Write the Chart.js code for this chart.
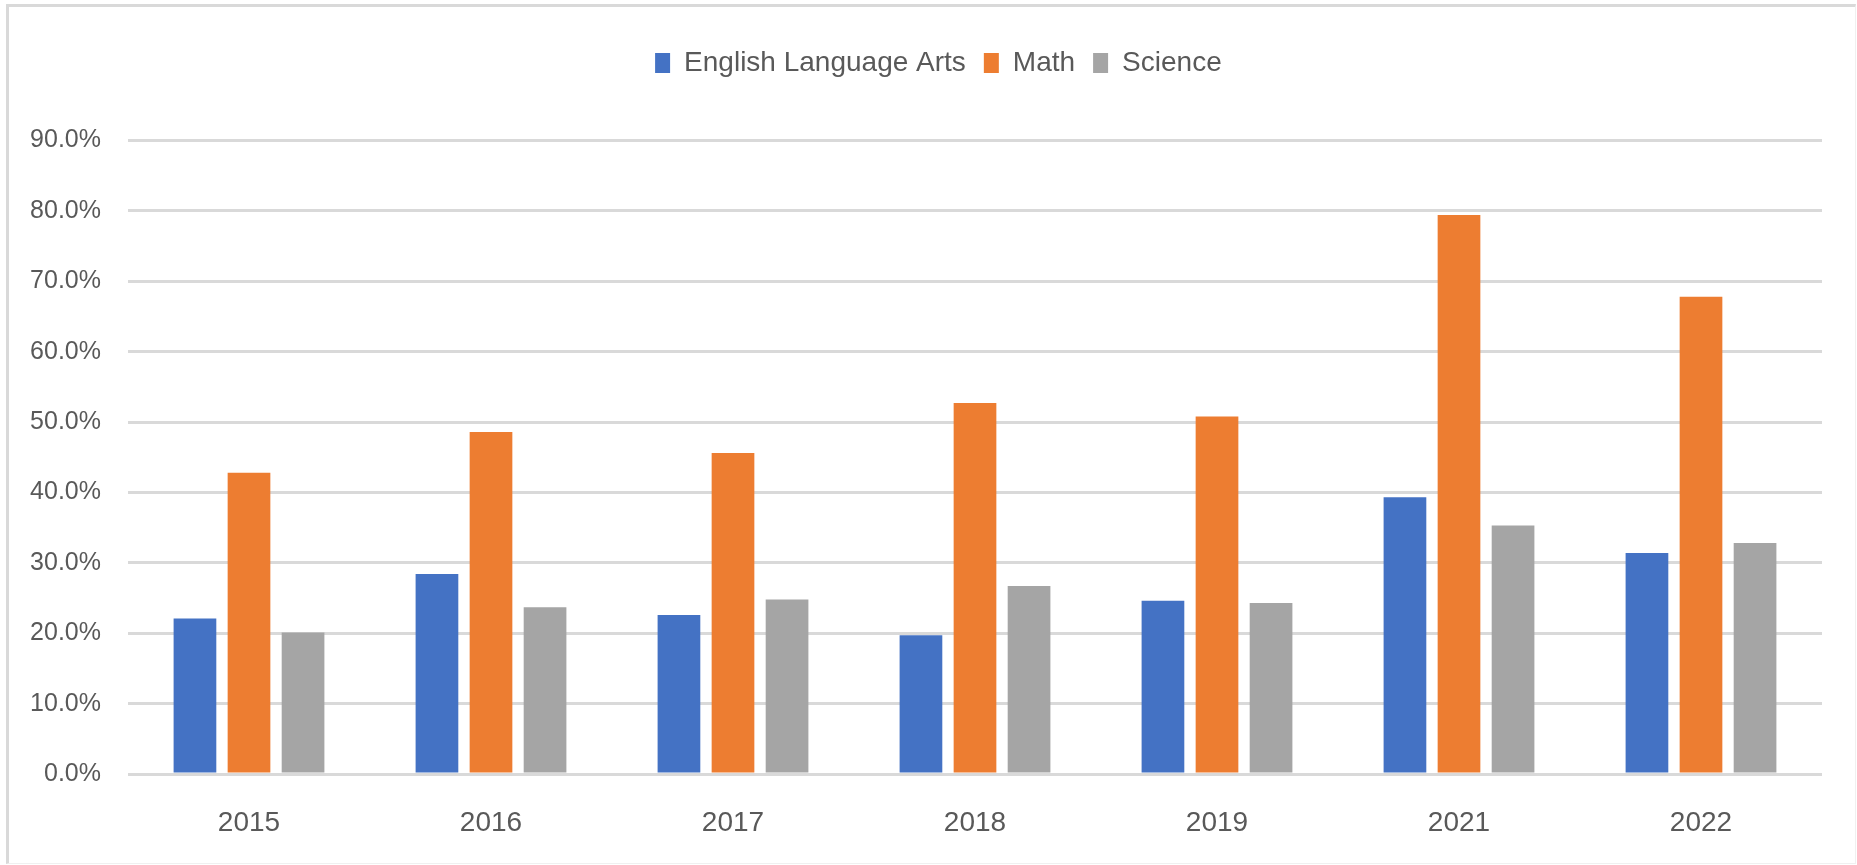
<!DOCTYPE html>
<html>
<head>
<meta charset="utf-8">
<script src="https://cdn.jsdelivr.net/npm/chart.js@4"></script>
<style>
  html, body { margin: 0; padding: 0; background: #fff; }
  #wrap { position: relative; width: 1857px; height: 865px; overflow: hidden; }
  #frame { position: absolute; left: 6px; top: 4px; right: 1px; bottom: 1px;
           border-left: 3px solid #d9d9d9; border-top: 3px solid #d9d9d9;
           border-right: 1px solid #f0f0f0; border-bottom: 1px solid #f0f0f0;
           pointer-events: none; box-sizing: border-box; }
  canvas { position: absolute; left: 0; top: 0; }
</style>
</head>
<body>
<div id="wrap">
  <canvas id="c" width="1857" height="865"></canvas>
  <div id="frame"></div>
</div>
<script>
const years = ['2015', '2016', '2017', '2018', '2019', '2021', '2022'];
const seriesNames = ['English Language Arts', 'Math', 'Science'];
const elaValues = [22.1, 28.4, 22.6, 19.7, 24.6, 39.3, 31.4];
const mathValues = [42.8, 48.6, 45.6, 52.7, 50.8, 79.4, 67.8];
const scienceValues = [20.1, 23.7, 24.8, 26.7, 24.3, 35.3, 32.8];
const yMin = 0;
const yMax = 90;
const yStep = 10;

const FONT = "'Liberation Sans', Arial, sans-serif";
const TEXT = '#595959';
const LEGEND_FONT = 28;
const LEGEND_PAD = 18;

// shift the legend so that it sits where the reference has it
const legendShift = {
  id: 'legendShift',
  afterLayout(chart) {
    const lg = chart.legend;
    if (!lg) return;
    const dx = 938.4 - (lg.left + lg.right) / 2;
    const dy = 63 - (lg.top + LEGEND_PAD + LEGEND_FONT / 2);
    lg.left += dx; lg.right += dx;
    lg.top += dy; lg.bottom += dy;
  }
};

new Chart(document.getElementById('c'), {
  type: 'bar',
  data: {
    labels: years,
    datasets: [
      { label: seriesNames[0], data: elaValues, backgroundColor: '#4472C4' },
      { label: seriesNames[1], data: mathValues, backgroundColor: '#ED7D31' },
      { label: seriesNames[2], data: scienceValues, backgroundColor: '#A5A5A5' }
    ]
  },
  plugins: [legendShift],
  options: {
    responsive: false,
    devicePixelRatio: 1,
    animation: false,
    categoryPercentage: 0.67,
    barPercentage: 0.79,
    layout: { padding: { left: 0, right: 35, top: 84.5, bottom: 0 } },
    plugins: {
      tooltip: { enabled: false },
      legend: {
        position: 'top',
        align: 'center',
        labels: {
          boxWidth: 15,
          boxHeight: 20,
          padding: LEGEND_PAD,
          color: TEXT,
          font: { family: FONT, size: LEGEND_FONT }
        }
      }
    },
    scales: {
      x: {
        afterFit(scale) { scale.height = 91; },
        grid: { display: false, drawTicks: false },
        border: { display: false },
        ticks: { color: TEXT, font: { family: FONT, size: 28 }, padding: 32 }
      },
      y: {
        min: yMin,
        max: yMax,
        afterFit(scale) { scale.width = 128; },
        grid: { color: '#d9d9d9', lineWidth: 3, drawTicks: false },
        border: { display: false },
        ticks: {
          stepSize: yStep,
          color: TEXT,
          padding: 27,
          font: { family: FONT, size: 25 },
          callback: v => Number(v).toFixed(1) + '%'
        }
      }
    }
  }
});
</script>
</body>
</html>
